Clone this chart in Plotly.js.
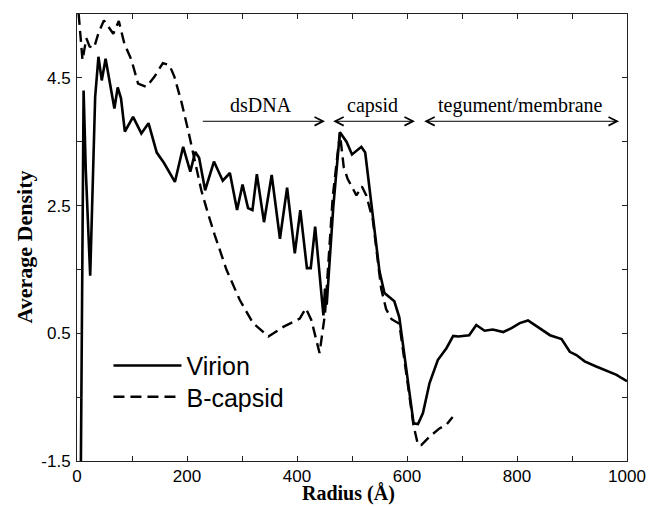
<!DOCTYPE html>
<html>
<head>
<meta charset="utf-8">
<script src="https://cdn.plot.ly/plotly-3.0.1.min.js"></script>
<style>html,body{margin:0;padding:0;background:#fff;}#chart{width:649px;height:506px;}</style>
</head>
<body>
<div id="chart"></div>
<script>
// Radius (Å) and average density for the virion (solid)
const virionRadius = [7,12,16,24,33,39,45,52,68,74,80,87,102,117,130,145,158,178,193,206,215,222,233,249,265,278,291,301,311,319,327,340,354,369,382,396,406,418,425,433,448,451,454,466,478,490,500,517,524,538,550,559,577,586,612,620,629,641,656,672,684,693,713,726,741,756,775,790,805,820,835,845,860,881,896,908,923,944,969,981,990,1000];
const virionDensity = [-1.6,4.3,3.05,1.4,4.2,4.83,4.46,4.8,4.02,4.35,4.18,3.66,3.89,3.63,3.79,3.33,3.17,2.87,3.42,3.03,3.34,3.25,2.74,3.19,2.89,3.01,2.43,2.83,2.46,2.43,2.99,2.24,2.98,1.98,2.78,1.75,2.43,1.52,1.52,2.17,0.78,1.2,0.95,2.48,3.65,3.5,3.3,3.42,3.33,2.35,1.47,1.13,1.0,0.75,-0.91,-0.92,-0.75,-0.28,0.08,0.27,0.46,0.45,0.47,0.63,0.54,0.56,0.52,0.58,0.66,0.70,0.61,0.56,0.47,0.41,0.21,0.16,0.06,-0.02,-0.10,-0.15,-0.20,-0.25];

// Radius (Å) and average density for the B-capsid (dashed)
const capsidRadius = [3,10,17,23,31,39,49,57,66,76,86,99,111,126,141,156,168,177,190,202,214,226,238,250,272,296,320,348,375,405,416,426,441,451,457,465,478,485,492,500,508,518,526,538,553,562,572,586,612,620,626,641,659,672,683];
const capsidDensity = [5.5,4.78,5.12,4.99,4.97,5.2,5.40,5.3,5.19,5.39,5.04,4.78,4.41,4.36,4.52,4.73,4.70,4.52,4.12,3.68,3.21,2.74,2.38,2.05,1.49,1.02,0.66,0.45,0.60,0.73,0.89,0.71,0.19,0.81,1.60,2.64,3.63,3.1,2.92,2.78,2.66,2.80,2.66,2.27,1.2,0.88,0.72,0.65,-0.95,-1.25,-1.25,-1.12,-0.99,-0.93,-0.81];

const seriesNames = ['Virion','B-capsid'];

const xTickVals = [0,100,200,300,400,500,600,700,800,900,1000];
const xTickText = ['0','','200','','400','','600','','800','','1000'];
const yTickVals = [-1.5,-0.5,0.5,1.5,2.5,3.5,4.5];
const yTickText = ['-1.5','','0.5','','2.5','','4.5'];

// region labels and their radial extents (Å)
const regionLabels = ['dsDNA','capsid','tegument/membrane'];
const regionStart = [226,463,628.5];
const regionEnd = [451,614.5,985.5];
const regionSides = ['end','end+start','end+start'];
const regionLevel = 3.82;

const traces = [
  {x: virionRadius, y: virionDensity, name: seriesNames[0], mode:'lines', legend:'legend',
   line:{color:'#000', width:2.6, dash:'solid'}},
  {x: capsidRadius, y: capsidDensity, name: seriesNames[1], mode:'lines', legend:'legend2',
   line:{color:'#000', width:2.4, dash:'11px,6px'}}
];

const annotations = [];
regionLabels.forEach((lab,i)=>{
  annotations.push({
    x: regionEnd[i], y: regionLevel, ax: regionStart[i], ay: regionLevel,
    xref:'x', yref:'y', axref:'x', ayref:'y', text:'', showarrow:true,
    arrowhead:5, startarrowhead:5, arrowside: regionSides[i],
    arrowsize:1.7, startarrowsize:1.7, arrowwidth:1, arrowcolor:'#000',
    standoff:0, startstandoff:0
  });
  annotations.push({
    x: (regionStart[i]+regionEnd[i])/2 + (i===0?-4:(i===1?-1:0)), y: 4.07, xref:'x', yref:'y',
    text: lab, showarrow:false, xanchor:'center', yanchor:'middle',
    font:{family:'Liberation Serif, Times New Roman, serif', size:20, color:'#000'}
  });
});
annotations.push({
  xref:'paper', yref:'paper', x:-0.0953, y:0.479, textangle:-90,
  text:'<b>Average Density</b>', showarrow:false, xanchor:'center', yanchor:'middle',
  font:{family:'Liberation Serif, Times New Roman, serif', size:22, color:'#000'}
});
annotations.push({
  xref:'paper', yref:'paper', x:0.4929, y:-0.0735,
  text:'<b>Radius (Å)</b>', showarrow:false, xanchor:'center', yanchor:'middle',
  font:{family:'Liberation Serif, Times New Roman, serif', size:20, color:'#000'}
});

const axisCommon = {
  showgrid:false, zeroline:false, showline:true, linecolor:'#222', linewidth:1,
  mirror:'allticks', ticks:'inside', ticklen:5, tickwidth:1, tickcolor:'#222',
  tickfont:{family:'Liberation Sans, Arial, sans-serif', size:17, color:'#000'},
  tickmode:'array'
};

const legendCommon = {xanchor:'left', yanchor:'top', bgcolor:'rgba(0,0,0,0)',
  borderwidth:0, itemwidth:68,
  font:{family:'Liberation Sans, Arial, sans-serif', size:25, color:'#000'}};

const layout = {
  width:649, height:506,
  margin:{l:76.5, r:21.7, t:14, b:45.3, pad:0},
  paper_bgcolor:'#fff', plot_bgcolor:'#fff',
  showlegend:true,
  legend:Object.assign({}, legendCommon, {x:0.0572, y:0.2645}),
  legend2:Object.assign({}, legendCommon, {x:0.0572, y:0.1946}),
  xaxis:Object.assign({}, axisCommon, {range:[0,1000], tickvals:xTickVals, ticktext:xTickText}),
  yaxis:Object.assign({}, axisCommon, {range:[-1.5,5.5], tickvals:yTickVals, ticktext:yTickText, ticklabelstandoff:2}),
  annotations: annotations
};

Plotly.newPlot('chart', traces, layout, {staticPlot:true, displayModeBar:false});
</script>
</body>
</html>
